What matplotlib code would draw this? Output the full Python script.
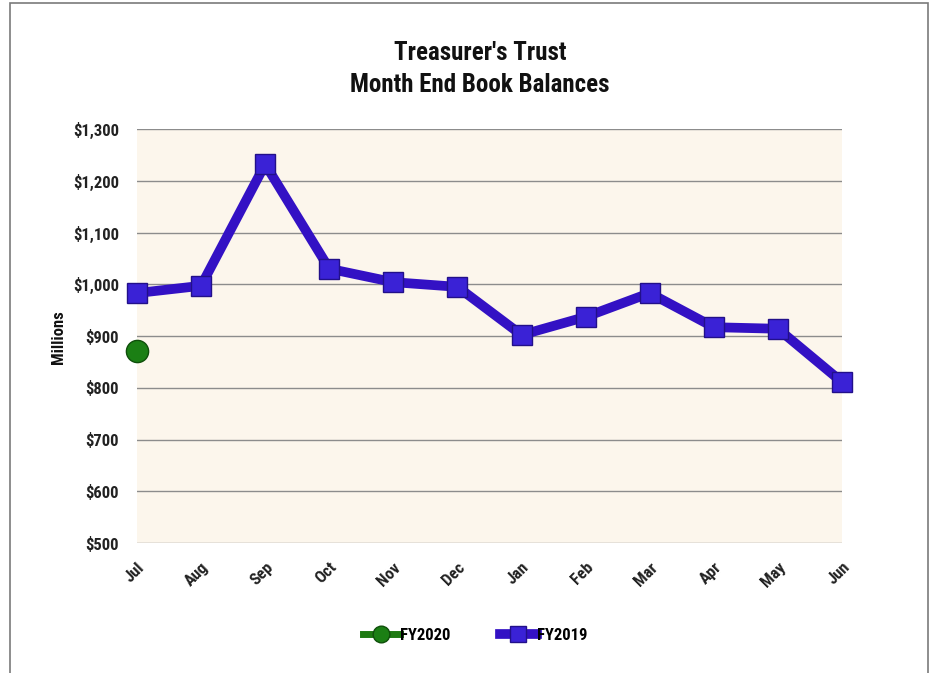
import numpy as np
import matplotlib
matplotlib.use("Agg")
import matplotlib.pyplot as plt
from matplotlib.patches import Rectangle
from matplotlib.ticker import FuncFormatter

plt.rcParams['font.family'] = ['Roboto Condensed', 'Archivo Narrow', 'DejaVu Sans']

months = ["Jul", "Aug", "Sep", "Oct", "Nov", "Dec", "Jan", "Feb", "Mar", "Apr", "May", "Jun"]
fy2019 = [983, 997, 1232, 1030, 1004, 995, 902, 937, 983, 917, 914, 811]
fy2020 = [871]

fig = plt.figure(figsize=(9.4, 6.73), dpi=100)
ax = fig.add_axes([137/940, 1-543/673, (842-137)/940, (543-129)/673])

x = np.arange(len(months))
ax.set_facecolor("#fcf6ec")
ax.plot(x[:len(fy2020)], fy2020, color="#1e7a12", lw=5, marker="o", ms=16,
        mfc="#1b7f14", mec="#0f4f0a", mew=1, label="FY2020", clip_on=False, zorder=4)
ax.plot(x, fy2019, color="#3311c4", lw=7, marker="s", ms=15,
        mfc="#3a22d6", mec="#22108a", mew=1, label="FY2019", clip_on=False, zorder=3)

ax.set_xlim(0, 11)
ax.set_ylim(500, 1300)
ax.set_yticks(np.arange(500, 1301, 100))
ax.yaxis.set_major_formatter(FuncFormatter(lambda v, p: "${:,.0f}".format(v)))
ax.set_xticks(x)
ax.set_xticklabels(months, rotation=45, ha="right", rotation_mode="anchor")
ax.grid(axis="y", color="#8c8c8c", lw=1)
ax.set_axisbelow(True)
for s in ax.spines.values():
    s.set_visible(False)
ax.tick_params(length=0, labelsize=12)
ax.tick_params(axis="y", pad=13)
ax.tick_params(axis="x", pad=12)
for lab in ax.get_xticklabels() + ax.get_yticklabels():
    lab.set_fontweight("bold")
    lab.set_color("#222222")

fig.text(58/940, 1-337/673, "Millions", rotation=90, ha="center", va="center",
         fontsize=12, fontweight="bold", color="#111111")
fig.text(480/940, 1-53/673, "Treasurer's Trust", ha="center", va="center",
         fontsize=18, fontweight="bold", color="#111111")
fig.text(480/940, 1-85/673, "Month End Book Balances", ha="center", va="center",
         fontsize=18, fontweight="bold", color="#111111")

fig.legend(loc="center", bbox_to_anchor=(475/940, 1-635/673), ncol=2, frameon=False,
           prop={"weight": "bold", "size": 12}, handlelength=2.2,
           handletextpad=0.0, columnspacing=3, markerscale=0.75)

fig.patches.append(Rectangle((10/940, -0.05), (928-10)/940, 1.05-3/673,
                             transform=fig.transFigure, fill=False,
                             edgecolor="#7a7a7a", lw=1.2))

fig.savefig("out.png", dpi=100, facecolor="white")
